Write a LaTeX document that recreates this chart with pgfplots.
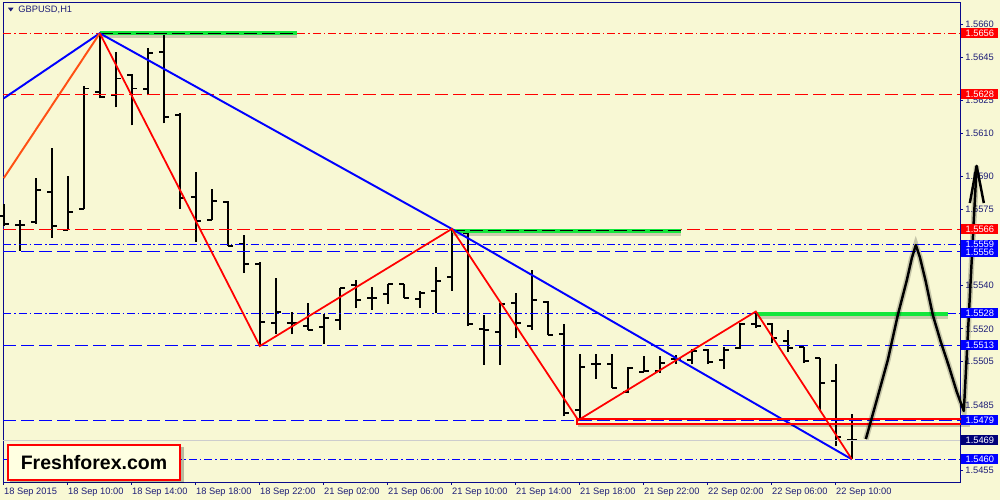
\documentclass[border=0pt]{standalone}
\usepackage{pgfplots}
\pgfplotsset{compat=1.18}
\usepackage{pgfplotstable}
\usepackage{fontspec}
\setmainfont{Liberation Sans}
\definecolor{bg}{RGB}{248,248,212}
\definecolor{axc}{RGB}{10,10,140}
\definecolor{txt}{RGB}{30,30,120}
\definecolor{mtred}{RGB}{255,0,0}
\definecolor{mtblue}{RGB}{0,0,255}
\definecolor{mtgreen}{RGB}{20,230,60}
\definecolor{orng}{RGB}{255,80,20}
\definecolor{navytag}{RGB}{0,0,120}
\definecolor{bidgray}{RGB}{205,205,205}
\tikzset{
  dashdotmt/.style={dash pattern=on 0.16cm off 0.06cm on 0.03cm off 0.06cm},
  dashmt/.style={dash pattern=on 0.26cm off 0.1cm},
  tag/.style={anchor=west, inner sep=0pt, minimum width=0.74cm, minimum height=0.2cm, text=white, font=\fontsize{5.3}{6}\selectfont, xshift=0.02cm},
}
\pgfplotstableread{
i O H L C
0 1.55720 1.55776 1.55674 1.55684
1 1.55679 1.55702 1.55559 1.55679
2 1.55693 1.55896 1.55684 1.55840
3 1.55831 1.56034 1.55619 1.55674
4 1.55656 1.55905 1.55656 1.55739
5 1.55753 1.56316 1.55753 1.56306
6 1.56292 1.56560 1.56260 1.56265
7 1.56274 1.56472 1.56219 1.56352
8 1.56366 1.56371 1.56136 1.56306
9 1.56302 1.56491 1.56274 1.56468
10 1.56472 1.56555 1.56145 1.56173
11 1.56182 1.56191 1.55753 1.55803
12 1.55808 1.55923 1.55601 1.55697
13 1.55702 1.55845 1.55702 1.55790
14 1.55785 1.55790 1.55582 1.55582
15 1.55591 1.55633 1.55457 1.55499
16 1.55499 1.55508 1.55121 1.55231
17 1.55227 1.55434 1.55176 1.55278
18 1.55227 1.55278 1.55176 1.55227
19 1.55213 1.55319 1.55195 1.55195
20 1.55208 1.55268 1.55130 1.55250
21 1.55241 1.55388 1.55195 1.55388
22 1.55402 1.55425 1.55296 1.55333
23 1.55342 1.55393 1.55287 1.55342
24 1.55361 1.55407 1.55314 1.55407
25 1.55407 1.55407 1.55342 1.55342
26 1.55338 1.55374 1.55296 1.55365
27 1.55374 1.55485 1.55273 1.55420
28 1.55439 1.55660 1.55375 1.55646
29 1.55642 1.55646 1.55213 1.55221
30 1.55199 1.55264 1.55034 1.55195
31 1.55186 1.55317 1.55034 1.55316
32 1.55319 1.55365 1.55158 1.55227
33 1.55213 1.55471 1.55195 1.55333
34 1.55324 1.55328 1.55171 1.55171
35 1.55176 1.55222 1.54798 1.54812
36 1.54826 1.55084 1.54790 1.55024
37 1.55038 1.55084 1.54969 1.55038
38 1.55038 1.55084 1.54927 1.54927
39 1.54909 1.55024 1.54904 1.55019
40 1.55001 1.55075 1.55001 1.55005
41 1.55005 1.55075 1.54996 1.55042
42 1.55061 1.55079 1.55038 1.55061
43 1.55056 1.55107 1.55038 1.55098
44 1.55102 1.55107 1.55038 1.55047
45 1.55056 1.55116 1.55015 1.55102
46 1.55112 1.55227 1.55107 1.55222
47 1.55222 1.55280 1.55204 1.55213
48 1.55222 1.55227 1.55135 1.55158
49 1.55144 1.55195 1.55093 1.55112
50 1.55116 1.55116 1.55042 1.55052
51 1.55065 1.55065 1.54821 1.54950
52 1.54959 1.55038 1.54659 1.54701
53 1.54687 1.54807 1.54600 1.54687
}\bars
\begin{document}
\begin{tikzpicture}
\fill[bg] (0,0) rectangle (20cm,10cm);
\useasboundingbox (0,0) rectangle (20cm,10cm);
\begin{axis}[
  at={(0.06cm,0.36cm)}, anchor=south west,
  scale only axis, width=19.14cm, height=9.6cm,
  xmin=-0.05, xmax=59.76, ymin=1.544956, ymax=1.56704,
  clip=false,
  axis line style={draw=axc, line width=0.55pt},
  tick style={draw=axc, line width=0.55pt},
  tick align=outside, major tick length=0.06cm,
  xtick pos=left, ytick pos=right, yticklabel pos=right,
  xtick={0,4,...,52},
  xticklabels={18 Sep 2015, 18 Sep 10:00, 18 Sep 14:00, 18 Sep 18:00, 18 Sep 22:00, 21 Sep 02:00, 21 Sep 06:00, 21 Sep 10:00, 21 Sep 14:00, 21 Sep 18:00, 21 Sep 22:00, 22 Sep 02:00, 22 Sep 06:00, 22 Sep 10:00},
  ytick={1.5455,1.5485,1.5505,1.5520,1.5540,1.5575,1.5590,1.5610,1.5625,1.5645,1.5660},
  scaled y ticks=false,
  yticklabel style={font=\fontsize{5.3}{6}\selectfont, text=txt, anchor=west, inner sep=0pt, xshift=0.04cm,
    /pgf/number format/.cd, fixed, fixed zerofill, precision=4, assume math mode=true},
  xticklabel style={font=\fontsize{5.3}{6}\selectfont, text=txt, anchor=north west, inner sep=0pt, yshift=-0.06cm},
]
% OHLC bars (quiver segments)
\addplot[black, line width=1.1pt, quiver={u=0, v=\thisrow{H}-\thisrow{L}}] table[x=i, y=L] {\bars};
\addplot[black, line width=1.1pt, quiver={u=-0.3, v=0}] table[x=i, y=O] {\bars};
\addplot[black, line width=1.1pt, quiver={u=0.3, v=0}] table[x=i, y=C] {\bars};
% horizontal levels
\addplot[mtred, line width=0.55pt, dashdotmt] coordinates {(-0.05,1.56560) (59.76,1.56560)};
\addplot[mtred, line width=0.55pt, dashmt] coordinates {(-0.05,1.56279) (59.76,1.56279)};
\addplot[mtred, line width=0.55pt, dashmt] coordinates {(-0.05,1.55658) (59.76,1.55658)};
\addplot[mtblue, line width=0.55pt, dashdotmt] coordinates {(-0.05,1.55587) (59.76,1.55587)};
\addplot[mtblue, line width=0.55pt, dashmt] coordinates {(-0.05,1.55554) (59.76,1.55554)};
\addplot[mtblue, line width=0.55pt, dashdotmt] coordinates {(-0.05,1.55273) (59.76,1.55273)};
\addplot[mtblue, line width=0.55pt, dashmt] coordinates {(-0.05,1.55125) (59.76,1.55125)};
\addplot[mtblue, line width=0.55pt, dashmt] coordinates {(-0.05,1.54780) (59.76,1.54780)};
\addplot[bidgray, line width=0.55pt] coordinates {(-0.05,1.54687) (59.76,1.54687)};
\addplot[mtblue, line width=0.55pt, dashdotmt] coordinates {(-0.05,1.54600) (59.76,1.54600)};
% green levels with shadow
\addplot[black, opacity=0.18, line width=3.2pt] coordinates {(6.05,1.56552) (18.35,1.56552)};
\addplot[mtgreen, line width=2.3pt] coordinates {(6,1.56560) (18.3,1.56560)};
\addplot[black, line width=0.55pt, dashmt] coordinates {(6,1.56560) (18.3,1.56560)};
\addplot[black, opacity=0.18, line width=3.2pt] coordinates {(28.05,1.55642) (42.35,1.55642)};
\addplot[mtgreen, line width=2.3pt] coordinates {(28,1.55650) (42.3,1.55650)};
\addplot[black, line width=0.55pt, dashmt] coordinates {(28,1.55655) (42.3,1.55655)};
\addplot[black, opacity=0.18, line width=3.2pt] coordinates {(47.05,1.55260) (59,1.55260)};
\addplot[mtgreen, line width=2.3pt] coordinates {(47.1,1.55268) (59,1.55268)};
% zigzags
\addplot[mtblue, line width=1.1pt] coordinates {(0,1.56261) (6,1.56560) (28,1.55660) (53,1.54600)};
\addplot[orng, line width=1.1pt] coordinates {(0,1.55894) (6,1.56560)};
\addplot[mtred, line width=1.0pt] coordinates {(6,1.56560) (16,1.55121) (28,1.55660) (35.9,1.54780) (47,1.55280) (53,1.54600)};
% red rectangle with shadow
\addplot[black, opacity=0.2, line width=1.6pt] coordinates {(35.9,1.54755) (60.4,1.54755)};
\addplot[mtred, line width=1.1pt] coordinates {(35.8,1.54787) (60.3,1.54787) (60.3,1.54764) (35.8,1.54764) (35.8,1.54787)};
% forecast path
\addplot[black, opacity=0.2, line width=3.2pt] coordinates {(53.875,1.54693) (54.56,1.54873) (55.25,1.55057) (55.875,1.55264) (56.44,1.55425) (56.75,1.55526) (57,1.55586) (57.25,1.55531) (57.625,1.55416) (58.06,1.55264) (58.56,1.55140) (59.06,1.55029) (59.56,1.54910) (60,1.54822) (60.8,1.55950)};
\addplot[black, line width=1.4pt, line join=round] coordinates {(53.875,1.54693) (54.56,1.54873) (55.25,1.55057) (55.875,1.55264) (56.44,1.55425) (56.75,1.55526) (57,1.55586) (57.25,1.55531) (57.625,1.55416) (58.06,1.55264) (58.56,1.55140) (59.06,1.55029) (59.56,1.54910) (60,1.54822) (60.8,1.55950)};
\addplot[black, line width=1.4pt, line join=round] coordinates {(60.375,1.55779) (60.8,1.55950) (61.25,1.55779)};
% tag anchors
\coordinate (tA) at (axis cs:59.76,1.56560);
\coordinate (tB) at (axis cs:59.76,1.56279);
\coordinate (tC) at (axis cs:59.76,1.55658);
\coordinate (tD) at (axis cs:59.76,1.55587);
\coordinate (tE) at (axis cs:59.76,1.55554);
\coordinate (tF) at (axis cs:59.76,1.55273);
\coordinate (tG) at (axis cs:59.76,1.55125);
\coordinate (tH) at (axis cs:59.76,1.54780);
\coordinate (tI) at (axis cs:59.76,1.54687);
\coordinate (tJ) at (axis cs:59.76,1.54600);
\end{axis}
% price tags on top of the tick labels
\node[tag, fill=mtred] at (tA) {1.5656};
\node[tag, fill=mtred] at (tB) {1.5628};
\node[tag, fill=mtred] at (tC) {1.5566};
\node[tag, fill=mtblue] at (tD) {1.5559};
\node[tag, fill=mtblue] at (tE) {1.5556};
\node[tag, fill=mtblue] at (tF) {1.5528};
\node[tag, fill=mtblue] at (tG) {1.5513};
\node[tag, fill=mtblue] at (tH) {1.5479};
\node[tag, fill=navytag] at (tI) {1.5469};
\node[tag, fill=mtblue] at (tJ) {1.5460};
% title
\fill[txt] (0.16cm,9.845cm) -- (0.27cm,9.845cm) -- (0.215cm,9.77cm) -- cycle;
\node[anchor=west, inner sep=0pt, text=txt, font=\fontsize{5.3}{6}\selectfont] at (0.36cm,9.8cm) {GBPUSD,H1};
% logo box
\fill[black, opacity=0.25] (0.2cm,0.33cm) rectangle (3.68cm,1.06cm);
\node[draw=mtred, line width=1.2pt, fill={rgb,255:red,255;green,255;blue,225}, minimum width=3.44cm, minimum height=0.7cm, inner sep=0pt, font=\fontsize{11.1}{13}\selectfont\bfseries] at (1.88cm,0.75cm) {Freshforex.com};
\end{tikzpicture}
\end{document}
